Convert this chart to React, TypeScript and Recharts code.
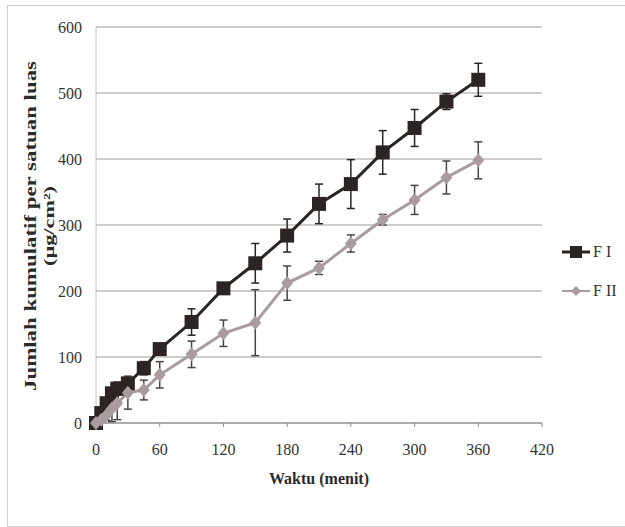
import { LineChart, Line, XAxis, YAxis, CartesianGrid, ErrorBar, Label } from 'recharts'

const times = [0, 5, 10, 15, 20, 30, 45, 60, 90, 120, 150, 180, 210, 240, 270, 300, 330, 360]
const f1Values = [0, 15, 30, 45, 52, 60, 83, 112, 153, 204, 242, 284, 332, 362, 410, 447, 487, 520]
const f1Errors = [0, 3, 5, 8, 10, 8, 10, 8, 20, 8, 30, 25, 30, 37, 33, 28, 12, 25]
const f2Values = [0, 5, 12, 22, 30, 46, 50, 73, 104, 136, 152, 212, 235, 272, 308, 338, 372, 398]
const f2Errors = [0, 3, 8, 20, 25, 25, 15, 20, 20, 20, 50, 26, 10, 13, 8, 22, 25, 28]
const xTicks = [0, 60, 120, 180, 240, 300, 360, 420]
const yTicks = [0, 100, 200, 300, 400, 500, 600]

const F1_COLOR = '#2b2422'
const F2_COLOR = '#a99b9e'
const FONT = "'Liberation Serif', 'DejaVu Serif', serif"

const data = times.map((t, i) => ({
  t,
  f1: f1Values[i],
  f1Err: f1Errors[i],
  f2: f2Values[i],
  f2Err: f2Errors[i],
}))

const SquareDot = (props: any) => {
  const { cx, cy, index } = props
  return <rect key={`sq-${index}`} x={cx - 7} y={cy - 7} width={14} height={14} fill={F1_COLOR} />
}

const DiamondDot = (props: any) => {
  const { cx, cy, index } = props
  return (
    <polygon
      key={`dm-${index}`}
      points={`${cx},${cy - 7} ${cx + 6},${cy} ${cx},${cy + 7} ${cx - 6},${cy}`}
      fill={F2_COLOR}
    />
  )
}

// two-line rotated title, stretched along its length like the scanned original
const YTitle = () => (
  <g style={{ fontFamily: FONT }} fontWeight="bold" fill="#2a2a2a">
    <text x={36} y={226} transform="rotate(-90 36 226)" textAnchor="middle" fontSize={16}
      textLength={330} lengthAdjust="spacingAndGlyphs">
      Jumlah kumulatif per   satuan luas
    </text>
    <text x={54} y={226} transform="rotate(-90 54 226)" textAnchor="middle" fontSize={15}
      textLength={80} lengthAdjust="spacingAndGlyphs">
      (µg/cm²)
    </text>
  </g>
)

const XTitle = () => (
  <text x={319} y={484} textAnchor="middle" style={{ fontFamily: FONT }} fontWeight="bold" fontSize={16} fill="#2a2a2a">
    Waktu (menit)
  </text>
)

export default function App() {
  const tickStyle = { fontSize: 16, fill: '#333', fontFamily: FONT }

  return (
    <div style={{ position: 'absolute', left: 0, top: 0, width: 625, height: 527, background: '#fff', fontFamily: FONT }}>
      <div style={{ position: 'absolute', left: 7, top: 5, width: 618, height: 520, borderTop: '1px solid #cfcfcf', borderLeft: '1px solid #cfcfcf', borderBottom: '1px solid #cfcfcf' }} />
      <LineChart width={625} height={527} data={data} margin={{ top: 27, right: 83, bottom: 64, left: 0 }}
        style={{ fontFamily: FONT }}>
        <CartesianGrid vertical={false} stroke="#9c9c9c" strokeWidth={1} />
        <XAxis
          type="number"
          dataKey="t"
          domain={[0, 420]}
          ticks={xTicks}
          height={40}
          tick={tickStyle}
          tickSize={4}
          tickMargin={17}
          stroke="#8e8e8e"
        >
          <Label content={<XTitle />} />
        </XAxis>
        <YAxis
          type="number"
          domain={[0, 600]}
          ticks={yTicks}
          width={96}
          tick={tickStyle}
          tickLine={false}
          tickSize={6}
          tickMargin={8}
          stroke="#c4c4c4"
        >
          <Label content={<YTitle />} />
        </YAxis>
        <Line
          dataKey="f1"
          name="F I"
          stroke={F1_COLOR}
          strokeWidth={3}
          dot={SquareDot}
          isAnimationActive={false}
        >
          <ErrorBar dataKey="f1Err" direction="y" width={4} stroke={F1_COLOR} strokeWidth={1.5} />
        </Line>
        <Line
          dataKey="f2"
          name="F II"
          stroke={F2_COLOR}
          strokeWidth={3}
          dot={DiamondDot}
          isAnimationActive={false}
        >
          <ErrorBar dataKey="f2Err" direction="y" width={4} stroke="#4a4446" strokeWidth={1.5} />
        </Line>
      </LineChart>
      <div style={{ position: 'absolute', left: 562, top: 242, fontSize: 16, color: '#333', lineHeight: '20px' }}>
        <div style={{ display: 'flex', alignItems: 'center', height: 20 }}>
          <svg width={28} height={14}>
            <line x1={0} y1={7} x2={28} y2={7} stroke={F1_COLOR} strokeWidth={3} />
            <rect x={8} y={1} width={12} height={12} fill={F1_COLOR} />
          </svg>
          <span style={{ marginLeft: 3 }}>F I</span>
        </div>
        <div style={{ display: 'flex', alignItems: 'center', height: 20, marginTop: 19 }}>
          <svg width={28} height={14}>
            <line x1={0} y1={7} x2={28} y2={7} stroke={F2_COLOR} strokeWidth={2} />
            <polygon points="14,2 19,7 14,12 9,7" fill={F2_COLOR} />
          </svg>
          <span style={{ marginLeft: 3 }}>F II</span>
        </div>
      </div>
    </div>
  )
}
